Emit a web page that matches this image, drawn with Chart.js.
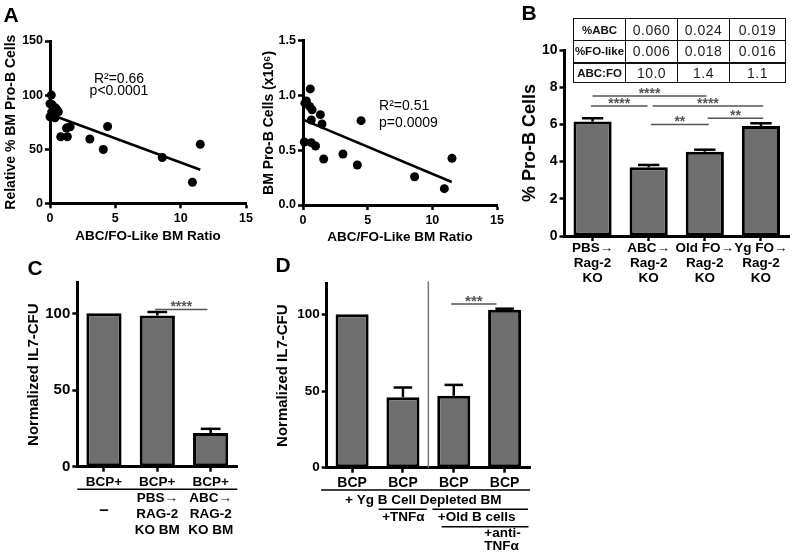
<!DOCTYPE html>
<html>
<head>
<meta charset="utf-8">
<script src="https://cdn.jsdelivr.net/npm/chart.js@4/dist/chart.umd.min.js"></script>
<style>
  html, body { margin: 0; padding: 0; background: #fff; }
  #wrap { position: relative; width: 800px; height: 556px; overflow: hidden; font-family: 'Liberation Sans', Arial, sans-serif; }
  #wrap canvas { position: absolute; left: 0; top: 0; }
  .tag { position: absolute; font-weight: bold; font-size: 21px; line-height: 1; transform: translate(-50%, -50%); }
  table.ratio { position: absolute; left: 573px; top: 18px; border-collapse: collapse; table-layout: fixed; }
  table.ratio td { border: 1.5px solid #111; padding: 0; text-align: center; font-size: 14px; color: #222; letter-spacing: 0.5px; }
  table.ratio td.head { font-weight: bold; font-size: 11.5px; letter-spacing: 0; color: #111; }
  table.ratio tr.last td { border-top-width: 2.5px; }
</style>
</head>
<body>
<div id="wrap">
  <canvas id="chart-a1" width="800" height="556"></canvas>
  <canvas id="chart-a2" width="800" height="556"></canvas>
  <canvas id="chart-b" width="800" height="556"></canvas>
  <canvas id="chart-c" width="800" height="556"></canvas>
  <canvas id="chart-d" width="800" height="556"></canvas>
  <div class="tag" style="left:11px; top:14px">A</div>
  <div class="tag" style="left:529px; top:12px">B</div>
  <div class="tag" style="left:35px; top:267px">C</div>
  <div class="tag" style="left:283px; top:264px">D</div>
  <table class="ratio" id="ratio"></table>
</div>
<script>
(() => {
  'use strict';

  // panel A left: ABC/FO ratio vs relative % pro-B
  const A1_RATIO = [0.1, 0.0, 0.18, 0.44, 0.64, 0.13, 0.0, 0.38, 0.55, 0.82, 1.33, 1.26, 1.54, 3.05, 4.08, 4.41, 8.59, 10.9, 11.5];
  const A1_PROB = [100, 92, 91, 88, 84.5, 84.5, 80, 79, 86, 61.5, 61.5, 69.5, 70.7, 59.4, 49.7, 71, 42.3, 19.5, 54.6];
  const A1_FIT_X = [0, 11.5];
  const A1_FIT_Y = [82.3, 31];

  // panel A right: ABC/FO ratio vs pro-B count (x10^6)
  const A2_RATIO = [0.56, 0.26, 0.15, 0.51, 0.7, 1.34, 0.64, 1.47, 4.49, 0.1, 0.64, 0.97, 1.6, 3.09, 4.2, 8.63, 10.93, 11.52];
  const A2_CELLS = [1.06, 0.95, 0.93, 0.9, 0.87, 0.825, 0.776, 0.74, 0.77, 0.575, 0.569, 0.539, 0.42, 0.466, 0.365, 0.258, 0.149, 0.426];
  const A2_FIT_X = [0, 11.5];
  const A2_FIT_Y = [0.78, 0.21];

  // panel B: % pro-B cells
  const B_LABELS = [['PBS→', 'Rag-2', 'KO'], ['ABC→', 'Rag-2', 'KO'], ['Old FO→', 'Rag-2', 'KO'], ['Yg FO→', 'Rag-2', 'KO']];
  const B_MEAN = [6.15, 3.69, 4.53, 5.91];
  const B_SEM = [0.18, 0.13, 0.11, 0.15];
  const B_SIG = [[0, 2.03, 7.53, '****'], [-0.03, 0.98, 6.99, '****'], [1.07, 3.04, 6.99, '****'], [2.05, 3.04, 6.33, '**'], [1.04, 2.07, 6.0, '**']];
  const B_ROWS = ['%ABC', '%FO-like', 'ABC:FO'];
  const B_TABLE = [['0.060', '0.024', '0.019'], ['0.006', '0.018', '0.016'], ['10.0', '1.4', '1.1']];

  // panel C: normalized IL7-CFU
  const C_LABELS = ['BCP+', 'BCP+', 'BCP+'];
  const C_MEAN = [100, 98.6, 21.9];
  const C_SEM = [0, 2.3, 2.8];
  const C_TICKS = [0, 50, 100];
  const C_SIG = [[0.96, 1.94, 102.6, '****']];
  const C_SUB = [[1, 'PBS→'], [2, 'ABC→'], [1, 'RAG-2'], [2, 'RAG-2'], [1, 'KO BM'], [2, 'KO BM']];

  // panel D: normalized IL7-CFU with TNFa
  const D_LABELS = ['BCP', 'BCP', 'BCP', 'BCP'];
  const D_MEAN = [100, 46, 46.9, 103];
  const D_SEM = [0, 6.3, 7.1, 0.7];
  const D_TICKS = [0, 50, 100];
  const D_SIG = [[1.95, 2.84, 106.8, '***']];

  const FONT = "'Liberation Sans', Arial, sans-serif";
  Chart.defaults.font.family = FONT;
  Chart.defaults.color = '#000';
  Chart.defaults.animation = false;
  Chart.defaults.responsive = false;
  Chart.defaults.plugins.legend.display = false;
  Chart.defaults.plugins.tooltip.enabled = false;

  const text = (ctx, s, x, y, o = {}) => {
    ctx.font = `${o.weight || 'bold'} ${o.size || 13.5}px ${FONT}`;
    ctx.fillStyle = o.color || '#000';
    ctx.textAlign = o.align || 'center';
    ctx.textBaseline = o.baseline || 'middle';
    ctx.fillText(s, x, y);
  };

  const line = (ctx, x0, y0, x1, y1, color, w) => {
    ctx.strokeStyle = color;
    ctx.lineWidth = w;
    ctx.beginPath();
    ctx.moveTo(x0, y0);
    ctx.lineTo(x1, y1);
    ctx.stroke();
  };

  // error bars, brackets, notes and label rules
  const extras = {
    id: 'extras',
    afterDatasetsDraw(chart, _args, o) {
      const {ctx, chartArea: area, scales: {x, y}} = chart;
      ctx.save();

      (o.dividers || []).forEach(([xv, y0, y1]) => {
        const px = x.getPixelForValue(xv);
        line(ctx, px, y.getPixelForValue(y0), px, y.getPixelForValue(y1), '#777', 1.5);
      });

      if (o.errors) {
        const meta = chart.getDatasetMeta(0),
              vals = chart.data.datasets[0].data;
        meta.data.forEach((bar, i) => {
          const e = o.errors[i];
          if (!e) return;
          const top = y.getPixelForValue(vals[i] + e),
                cw = bar.width * 0.28;
          line(ctx, bar.x, bar.y, bar.x, top, '#000', 2.5);
          line(ctx, bar.x - cw, top, bar.x + cw, top, '#000', 2.5);
        });
      }

      (o.sig || []).forEach(([a, b, v, s]) => {
        const py = y.getPixelForValue(v),
              xa = x.getPixelForValue(a),
              xb = x.getPixelForValue(b);
        line(ctx, xa, py, xb, py, '#555', 1.5);
        text(ctx, s, (xa + xb) / 2, py + 2, {size: o.starSize || 14, color: '#555', baseline: 'alphabetic'});
      });

      (o.rules || []).forEach(([a, b, dy]) => {
        const py = area.bottom + dy;
        line(ctx, x.getPixelForValue(a), py, x.getPixelForValue(b), py, '#000', 1.5);
      });

      (o.notes || []).forEach((n) => {
        const px = x.getPixelForValue(n.x),
              py = n.dy !== undefined ? area.bottom + n.dy : y.getPixelForValue(n.y);
        text(ctx, n.text, px, py, n);
      });

      ctx.restore();
    },
  };

  // place the plot area at fixed pixels on the shared 800x556 page
  const box = (a, yW, xH) => ({
    padding: { left: a.l - yW, top: a.t, right: 800 - a.r, bottom: 556 - a.b - xH },
  });

  const axis = (o) => Object.assign({
    border: { display: true, color: '#000', width: 3 },
    grid: { drawOnChartArea: false, drawTicks: true, tickLength: 5, tickWidth: 2.5, tickColor: '#000', offset: false },
    ticks: { color: '#000', font: { size: o.tick, weight: 'bold', lineHeight: 1.1 }, padding: o.pad, maxRotation: 0, autoSkip: false },
    title: o.title
      ? { display: true, text: o.title, color: '#000', font: { size: o.tsize, weight: 'bold' }, padding: 0 }
      : { display: false },
    afterFit: (s) => {
      if (s.isHorizontal()) s.height = o.size;
      else s.width = o.size;
    },
  }, o.extra || {});

  const pts = (xs, ys) => xs.map((v, i) => ({ x: v, y: ys[i] }));

  const scatter = (id, a, dataset, fit, xAxis, yAxis, notes) => new Chart(document.getElementById(id), {
    type: 'scatter',
    data: {
      datasets: [
        { data: dataset, pointRadius: 4.5, backgroundColor: '#000', borderWidth: 0, clip: false },
        { data: fit, showLine: true, borderColor: '#000', borderWidth: 2.5, pointRadius: 0, clip: false },
      ],
    },
    options: {
      layout: box(a, yAxis.size, xAxis.size),
      scales: { x: axis(xAxis), y: axis(yAxis) },
      plugins: { extras: { notes } },
    },
    plugins: [extras],
  });

  const bars = (id, a, labels, mean, pct, xAxis, yAxis, extra) => new Chart(document.getElementById(id), {
    type: 'bar',
    data: {
      labels,
      datasets: [{
        data: mean,
        backgroundColor: '#6e6e6e',
        borderColor: '#000',
        borderWidth: 3,
        borderSkipped: false,
        barPercentage: pct,
        categoryPercentage: 1,
      }],
    },
    options: {
      layout: box(a, yAxis.size, xAxis.size),
      scales: { x: axis(xAxis), y: axis(yAxis) },
      plugins: { extras: extra },
    },
    plugins: [extras],
  });

  const range = (min, max, step, fmt) => ({
    min, max,
    ticks: Object.assign(
      { color: '#000', font: { size: 12.5, weight: 'bold' }, maxRotation: 0, autoSkip: false, stepSize: step },
      fmt ? { callback: fmt } : {}
    ),
  });

  // A left
  const a1x = range(0, 15, 5), a1y = range(0, 150, 50);
  a1x.ticks.padding = 3; a1y.ticks.padding = 2;
  scatter('chart-a1', { l: 50, t: 41, r: 246, b: 203.3 },
    pts(A1_RATIO, A1_PROB), pts(A1_FIT_X, A1_FIT_Y),
    { size: 41.3, tick: 12.5, pad: 3, title: 'ABC/FO-Like BM Ratio', tsize: 13.5, extra: a1x },
    { size: 47.4, tick: 12.5, pad: 2, title: 'Relative % BM Pro-B Cells', tsize: 14, extra: a1y },
    [
      { x: 5.28, y: 114.9, text: 'R²=0.66', size: 14, weight: 'normal' },
      { x: 5.28, y: 103.8, text: 'p<0.0001', size: 14, weight: 'normal' },
    ]);

  // A right
  const a2x = range(0, 15, 5), a2y = range(0, 1.5, 0.5, (v) => v.toFixed(1));
  a2x.ticks.padding = 3; a2y.ticks.padding = 2;
  scatter('chart-a2', { l: 303, t: 40.7, r: 497, b: 205 },
    pts(A2_RATIO, A2_CELLS), pts(A2_FIT_X, A2_FIT_Y),
    { size: 40.1, tick: 12.5, pad: 3, title: 'ABC/FO-Like BM Ratio', tsize: 13.5, extra: a2x },
    { size: 42.4, tick: 12.5, pad: 2, title: 'BM Pro-B Cells (x10⁶)', tsize: 14, extra: a2y },
    [
      { x: 5.88, y: 0.904, text: 'R²=0.51', size: 14, weight: 'normal', align: 'left' },
      { x: 5.88, y: 0.75, text: 'p=0.0009', size: 14, weight: 'normal', align: 'left' },
    ]);

  // B
  const by = range(0, 10, 2);
  by.ticks.font.size = 14; by.ticks.padding = 2;
  bars('chart-b', { l: 564.5, t: 50, r: 789, b: 236 }, B_LABELS, B_MEAN, 0.68,
    { size: 50, tick: 13.5, pad: 0 },
    { size: 45.3, tick: 14, pad: 2, title: '% Pro-B Cells', tsize: 18, extra: by },
    { errors: B_SEM, sig: B_SIG, starSize: 14 });

  // C
  bars('chart-c', { l: 77.3, t: 282.7, r: 237.3, b: 466.7 }, C_LABELS, C_MEAN, 0.66,
    { size: 30, tick: 13.5, pad: 3 },
    { size: 52.3, tick: 15, pad: 2, title: 'Normalized IL7-CFU', tsize: 15,
      extra: { min: 0, max: 120, afterBuildTicks: (s) => { s.ticks = C_TICKS.map((v) => ({ value: v })); } } },
    {
      errors: C_SEM, sig: C_SIG, starSize: 14,
      rules: [[-0.5, 2.5, 22.6]],
      notes: [
        { x: 0, dy: 43.3, text: '–', size: 17 },
        ...C_SUB.map(([i, s], k) => ({ x: i, dy: [31.6, 47.6, 63.3][Math.floor(k / 2)], text: s, size: 13.5 })),
      ],
    });

  // D
  bars('chart-d', { l: 326.7, t: 283.7, r: 530, b: 467.7 }, D_LABELS, D_MEAN, 0.65,
    { size: 30, tick: 14, pad: 3 },
    { size: 52.4, tick: 13.5, pad: 2, title: 'Normalized IL7-CFU', tsize: 15,
      extra: { min: 0, max: 120, afterBuildTicks: (s) => { s.ticks = D_TICKS.map((v) => ({ value: v })); } } },
    {
      errors: D_SEM, sig: D_SIG, starSize: 15,
      dividers: [[1.5, 0, 121.5]],
      rules: [[-0.61, 3.5, 22.3], [0.52, 1.47, 41.6], [1.58, 3.46, 41.6], [1.76, 3.47, 59]],
      notes: [
        { x: 1.4, dy: 32.3, text: '+ Yg B Cell Depleted BM', size: 13.5 },
        { x: 1.01, dy: 49.6, text: '+TNFα', size: 13.5 },
        { x: 2.45, dy: 49.6, text: '+Old B cells', size: 13.5 },
        { x: 2.6, dy: 65.6, text: '+anti-', size: 13.5, align: 'left' },
        { x: 2.6, dy: 79, text: 'TNFα', size: 13.5, align: 'left' },
      ],
    });

  // B ratio table
  const h = (v) => v.toString().replaceAll('&', '&amp;').replaceAll('<', '&lt;').replaceAll('>', '&gt;');
  const widths = [51, 51, 51, 55], heights = [22, 22, 20];
  document.getElementById('ratio').innerHTML = B_ROWS.map((r, i) => `
    <tr class='${i === 2 ? 'last' : ''}' style='height:${heights[i]}px'>
      <td class='head' style='width:${widths[0]}px'>${h(r)}</td>
      ${B_TABLE[i].map((v, j) => `<td style='width:${widths[j + 1]}px'>${h(v)}</td>`).join('')}
    </tr>
  `).join('');
})();
</script>
</body>
</html>
